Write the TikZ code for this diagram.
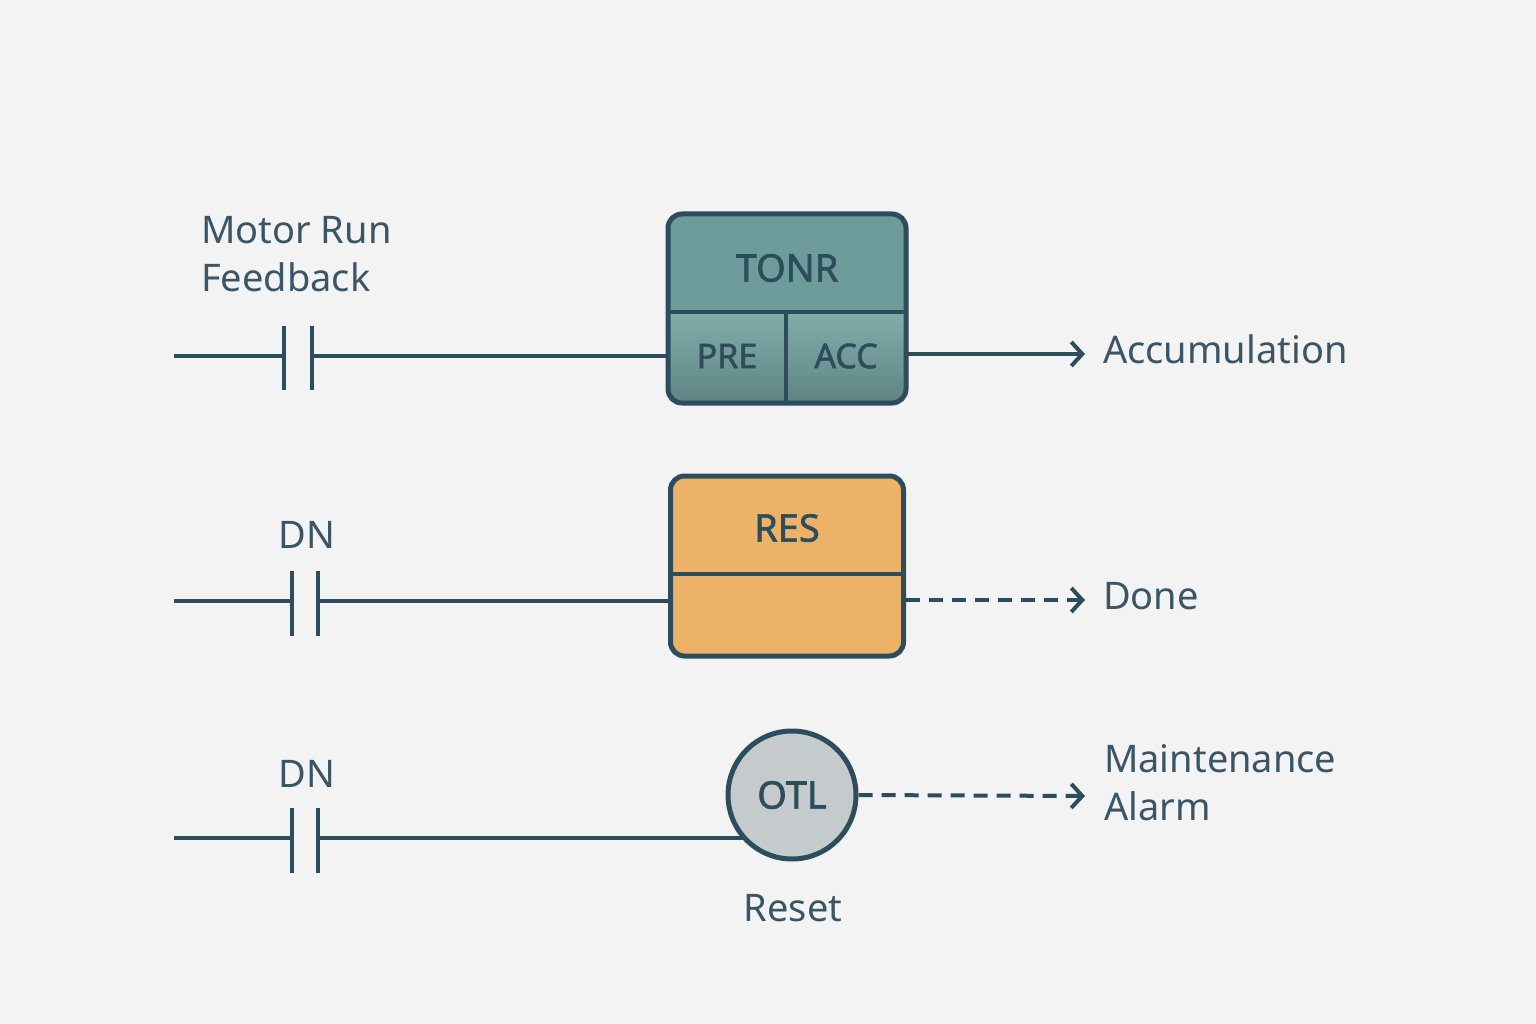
\documentclass[tikz,border=0pt]{standalone}
\usepackage{fontspec}
\usetikzlibrary{arrows.meta}
\setmainfont{Noto Sans}
\newfontfamily\boldlbl{Noto Sans}[FakeBold=1.6]
\begin{document}
\definecolor{bg}{HTML}{F3F3F3}
\definecolor{ln}{HTML}{2E4D5C}
\definecolor{tx}{HTML}{3A5566}
\definecolor{teal}{HTML}{6E9C9A}
\definecolor{teall}{HTML}{82ADAB}
\definecolor{orng}{HTML}{EBB268}
\definecolor{gry}{HTML}{C5CBCD}
\begin{tikzpicture}[x=1pt,y=-1pt,
  wire/.style={ln,line width=4pt},
  lbl/.style={text=tx,font=\fontsize{38}{48}\selectfont,inner sep=0pt},
  blbl/.style={text=ln,font=\fontsize{38}{44}\boldlbl\selectfont,inner sep=0pt},
  arr/.style={ln,line width=4pt,-{Straight Barb[length=11pt,width=24pt,line width=4pt]}},
  dsh/.style={arr,dash pattern=on 14pt off 9pt}]
\useasboundingbox[fill=bg] (0,0) rectangle (1536,1024);
% rung 1
\coordinate (l1) at (174,356);
\coordinate (c1a) at (284,356); \coordinate (c1b) at (312,356);
\draw[wire] (l1) -- (c1a); \draw[wire] (284,326) -- (284,390); \draw[wire] (312,326) -- (312,390);
\node[lbl,align=left,anchor=north west] (mrf) at (201,216) {Motor Run\\Feedback};
% TONR box
\begin{scope}
\clip[rounded corners=14pt] (668,214) rectangle (906,403);
\fill[teal] (668,214) rectangle (906,312);
\shade[top color=teall,bottom color=teal!85!black!100] (668,312) rectangle (906,403);
\end{scope}
\draw[ln,line width=5pt,rounded corners=14pt] (668,214) rectangle (906,403);
\draw[ln,line width=4pt] (668,312) -- (906,312); \draw[ln,line width=4pt] (786,312) -- (786,403);
\node[blbl] (tonr) at (787,268) {TONR};
\node[blbl,font=\fontsize{34}{40}\boldlbl\selectfont] (pre) at (727,356) {PRE};
\node[blbl,font=\fontsize{34}{40}\boldlbl\selectfont] (acc) at (846,356) {ACC};
\coordinate (tin) at (668,356); \coordinate (tout) at (906,354);
\draw[wire] (c1b) -- (tin);
\node[lbl,anchor=west] (accl) at (1103,349) {Accumulation};
\draw[arr] (tout) -- (1085,354);
% rung 2
\node[lbl] (dn1) at (307,535) {DN};
\draw[wire] (174,601) -- (292,601); \draw[wire] (292,571) -- (292,636); \draw[wire] (318,571) -- (318,636);
\node[draw=ln,line width=5pt,rounded corners=14pt,fill=orng,minimum width=233pt,minimum height=180pt,inner sep=0pt] (res) at (787,566) {};
\draw[ln,line width=4pt] (668,574) -- (906,574);
\node[blbl] (resl) at (787,528) {RES};
\draw[wire] (318,601) -- (res.west |- 0,601);
\node[lbl,anchor=west] (done) at (1103,596) {Done};
\draw[dsh] (906,600) -- (1085,600);
% rung 3
\node[lbl] (dn2) at (307,774) {DN};
\draw[wire] (174,838) -- (292,838); \draw[wire] (292,808) -- (292,873); \draw[wire] (318,808) -- (318,873);
\draw[wire] (318,838) -- (745,838);
\node[circle,draw=ln,line width=5pt,fill=gry,minimum size=128pt,inner sep=0pt] (otl) at (792,795) {};
\node[blbl] at (otl) {OTL};
\draw[dsh] (otl.east) -- (1085,796);
\node[lbl,align=left,anchor=north west] (ma) at (1104,744) {Maintenance\\Alarm};
\node[lbl] (rst) at (793,908) {Reset};
\end{tikzpicture}
\end{document}
